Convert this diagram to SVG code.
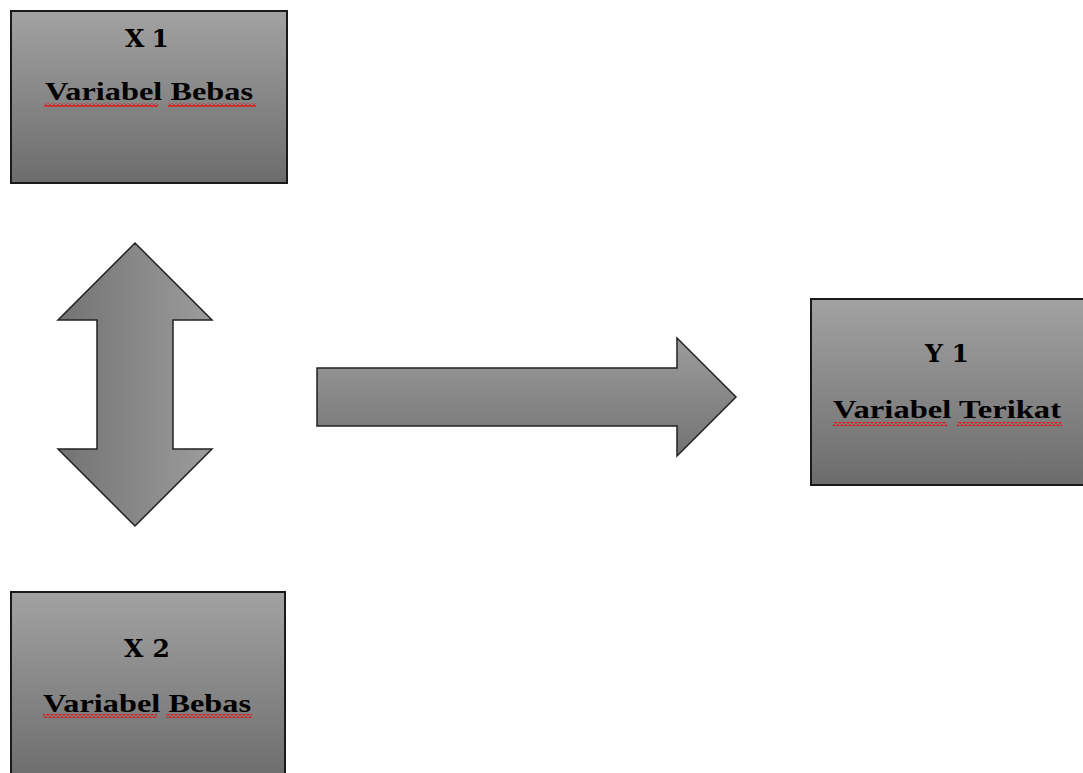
<svg xmlns="http://www.w3.org/2000/svg" width="1083" height="773" viewBox="0 0 1083 773">
<defs>
<linearGradient id="gBox" x1="0" y1="0" x2="0" y2="1">
<stop offset="0" stop-color="#a2a2a2"/><stop offset="1" stop-color="#6c6c6c"/>
</linearGradient>
<linearGradient id="gV" x1="0" y1="0" x2="1" y2="0">
<stop offset="0" stop-color="#737373"/><stop offset="1" stop-color="#9c9c9c"/>
</linearGradient>
<linearGradient id="gH" x1="0" y1="0" x2="0" y2="1">
<stop offset="0" stop-color="#9c9c9c"/><stop offset="1" stop-color="#737373"/>
</linearGradient>
<pattern id="wave" x="0" y="0" width="4" height="4" patternUnits="userSpaceOnUse">
<path d="M-1,4 L0,3 L2,1 L4,3 L5,4" fill="none" stroke="#e01818" stroke-width="1.3"/>
</pattern>
<style>
.box{fill:url(#gBox);stroke:#1a1a1a;stroke-width:2}
.t{font-family:"Liberation Serif","DejaVu Serif",serif;font-weight:bold;fill:#000;text-anchor:middle}
.big{font-family:"DejaVu Serif","Liberation Serif",serif;font-size:25px}
.sm{font-size:26px}
.arr{stroke:#222;stroke-width:1.5;stroke-linejoin:miter}
</style>
</defs>
<g id="x1">
<rect class="box" x="11" y="11" width="276" height="172"/>
<text class="t big" x="147" y="47" textLength="44" lengthAdjust="spacing">X1</text>
<text class="t sm" x="149" y="100" textLength="208" lengthAdjust="spacingAndGlyphs">Variabel Bebas</text>
<rect x="44" y="103" width="114" height="4" fill="url(#wave)"/>
<rect x="168" y="103" width="88" height="4" fill="url(#wave)"/>
</g>
<g id="x2">
<rect class="box" x="11" y="592" width="274" height="190"/>
<text class="t big" x="147" y="657" textLength="46" lengthAdjust="spacing">X2</text>
<text class="t sm" x="147" y="712" textLength="208" lengthAdjust="spacingAndGlyphs">Variabel Bebas</text>
<rect x="43" y="714" width="114" height="4" fill="url(#wave)"/>
<rect x="166" y="714" width="86" height="4" fill="url(#wave)"/>
</g>
<g id="y1">
<rect class="box" x="811" y="299" width="280" height="186"/>
<text class="t big" x="947" y="362" textLength="44" lengthAdjust="spacing">Y1</text>
<text class="t sm" x="947" y="418" textLength="228" lengthAdjust="spacingAndGlyphs">Variabel Terikat</text>
<rect x="833" y="422" width="114" height="4" fill="url(#wave)"/>
<rect x="957" y="422" width="105" height="4" fill="url(#wave)"/>
</g>
<g id="connectors">
<path class="arr" fill="url(#gV)" d="M135,243 L212,320 L173,320 L173,449 L212,449 L135,526 L58,449 L97,449 L97,320 L58,320 Z"/>
<path class="arr" fill="url(#gH)" d="M317,368 L677,368 L677,338 L736,397 L677,456 L677,426 L317,426 Z"/>
</g>
</svg>
